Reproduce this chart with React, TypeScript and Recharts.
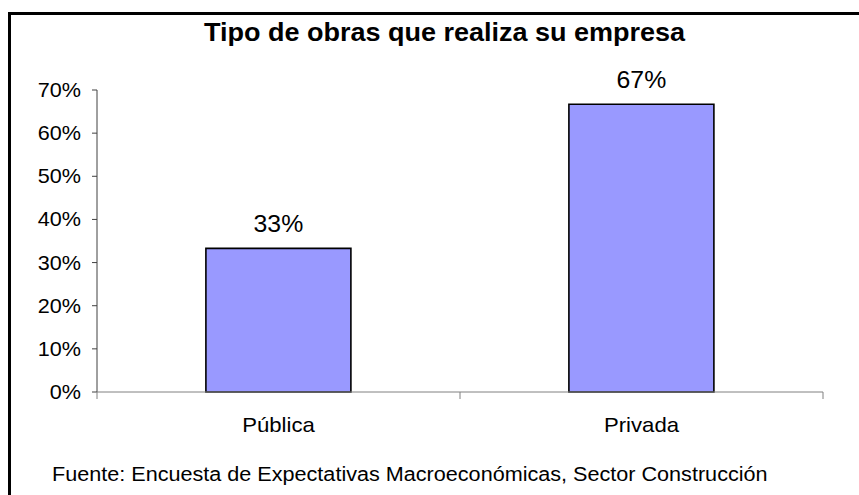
import { Bar, BarChart, LabelList, XAxis, YAxis } from "recharts";

const categories = ["Pública", "Privada"];
const shares = [33.3, 66.7];
const yTicks = [0, 10, 20, 30, 40, 50, 60, 70];

const data = categories.map((name, i) => ({ name, value: shares[i] }));

const FONT = "'Liberation Sans', Arial, sans-serif";
// the source image is a bit wider than tall, so the text is stretched sideways
const SX = 1.08;

function StretchText({ x, y, anchor, size, children }: any) {
  return (
    <text
      transform={`translate(${x},${y}) scale(${SX},1)`}
      textAnchor={anchor}
      fontSize={size}
      fontFamily={FONT}
      fill="#000"
    >
      {children}
    </text>
  );
}

function YTick(props: any) {
  const { x, y, payload } = props;
  return (
    <StretchText x={x} y={y + 7} anchor="end" size={20}>
      {payload.value}%
    </StretchText>
  );
}

// tick mark on the category boundary, like the old Excel charts
function XTick(props: any) {
  const { x, y, payload, index } = props;
  const half = payload?.offset ?? 181.5;
  return (
    <g>
      <line x1={x + half} y1={y} x2={x + half} y2={y + 7} stroke="#808080" />
      {index === 0 && <line x1={x - half} y1={y} x2={x - half} y2={y + 7} stroke="#808080" />}
      <StretchText x={x} y={y + 40} anchor="middle" size={20.5}>
        {payload.value}
      </StretchText>
    </g>
  );
}

function BarLabel(props: any) {
  const { x, y, width, value } = props;
  return (
    <StretchText x={x + width / 2} y={y - 16} anchor="middle" size={23}>
      {Math.round(Number(value))}%
    </StretchText>
  );
}

export default function App() {
  return (
    <div style={{ position: "absolute", left: 0, top: 0, width: 859, height: 495, background: "#fff", overflow: "hidden" }}>
      <div
        style={{
          position: "absolute",
          left: 8,
          top: 12,
          width: 900,
          height: 500,
          borderLeft: "3px solid #000",
          borderTop: "3px solid #000",
        }}
      />
      <div
        style={{
          position: "absolute",
          left: 0,
          width: 889,
          top: 18,
          textAlign: "center",
          fontFamily: FONT,
          fontWeight: "bold",
          fontSize: 25,
          lineHeight: "29px",
          whiteSpace: "nowrap",
          transform: `scaleX(${SX})`,
          transformOrigin: "444px 0",
        }}
      >
        Tipo de obras que realiza su empresa
      </div>
      <div style={{ position: "absolute", left: 0, top: 0 }}>
        <BarChart
          width={859}
          height={495}
          data={data}
          margin={{ top: 90, right: 36, bottom: 0, left: 0 }}
          barCategoryGap="30%"
        >
          <YAxis
            width={97}
            domain={[0, 70]}
            ticks={yTicks}
            interval={0}
            axisLine={{ stroke: "#404040" }}
            tickLine={{ stroke: "#404040" }}
            tickSize={5}
            tickMargin={11}
            tick={<YTick />}
          />
          <XAxis
            dataKey="name"
            height={103}
            axisLine={{ stroke: "#808080" }}
            tickLine={false}
            tickSize={0}
            tickMargin={0}
            tick={<XTick />}
          />
          <Bar dataKey="value" fill="#9999FF" stroke="#000" strokeWidth={1.6} isAnimationActive={false}>
            <LabelList dataKey="value" content={<BarLabel />} />
          </Bar>
        </BarChart>
      </div>
      <div
        style={{
          position: "absolute",
          left: 52,
          top: 463,
          fontFamily: FONT,
          fontSize: 20,
          lineHeight: "23px",
          whiteSpace: "nowrap",
          transform: `scaleX(${SX})`,
          transformOrigin: "0 0",
        }}
      >
        Fuente: Encuesta de Expectativas Macroeconómicas, Sector Construcción
      </div>
    </div>
  );
}
